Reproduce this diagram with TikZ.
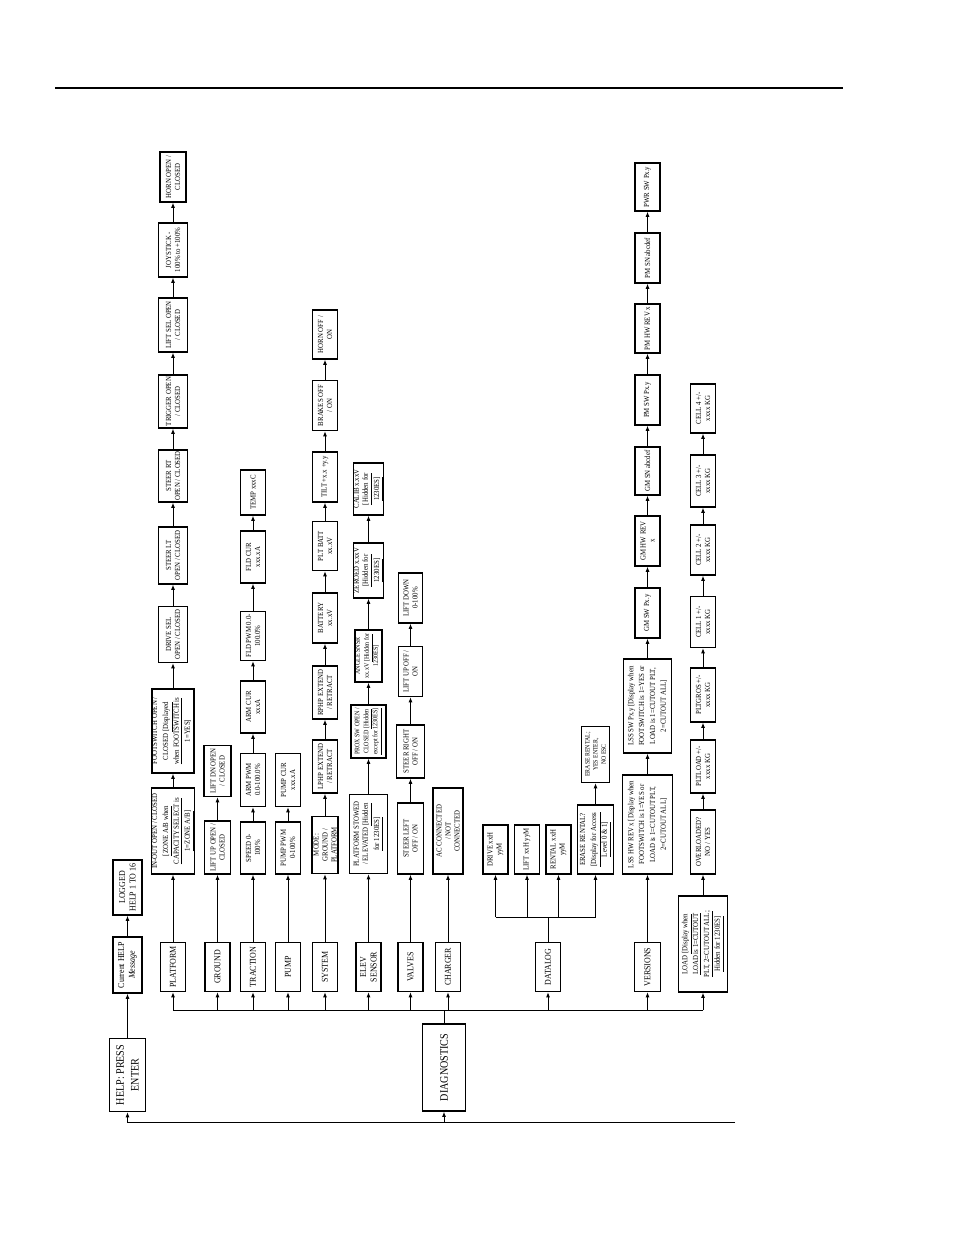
\documentclass[tikz,border=0pt]{standalone}
\usepackage{fontspec}
\setmainfont{Liberation Serif}[FakeStretch=0.88]
\usetikzlibrary{arrows.meta}

\begin{document}
\begin{tikzpicture}[x=0.6439pt, y=-0.6439pt,
  box/.style={draw, line width=0.8pt, rotate=90, inner sep=0pt, align=center, font=\fontsize{5}{5.8}\selectfont},
  sz/.style 2 args={minimum height=#1*0.6439pt, minimum width=#2*0.6439pt},
  roomy/.style={font=\fontsize{5}{7}\selectfont},
  menu/.style={font=\fontsize{5.8}{6.8}\selectfont},
  big/.style={font=\fontsize{7.4}{9.5}\selectfont},
  tinytxt/.style={font=\fontsize{4.3}{5.2}\selectfont},
  narrow/.style={font=\fontsize{4.4}{5.8}\selectfont},
  arr/.style={-{Latex[length=3.4pt,width=2.6pt]}, line width=0.6pt},
  wire/.style={line width=0.6pt}]

\useasboundingbox (0,0) rectangle (954,1235);

% header rule
\draw [line width=0.8pt] (55,88) -- (843,88);

% help entry
\node [box, big, sz={36}{73}] (help) at (127.5,1075) {HELP: PRESS\\ENTER};
\node [box, menu, sz={29}{56}] (curhelp) at (127.5,965) {Current HELP\\\textit{Message}};
\node [box, menu, sz={29}{55}] (logged) at (127.5,887.5) {LOGGED\\HELP 1 TO 16};
\draw [arr] (help) -- (curhelp);
\draw [arr] (curhelp) -- (logged);

% diagnostics menu
\coordinate (bus) at (0,1010);
\coordinate (ret) at (735,1122);
\node [box, big, sz={43}{87}] (diag) at (444,1067.5) {DIAGNOSTICS};
\node [box, menu, sz={25}{49}] (platform) at (173,967) {PLATFORM};
\node [box, menu, sz={25}{49}] (ground) at (217.5,967) {GROUND};
\node [box, menu, sz={25}{49}] (traction) at (253,967) {TRACTION};
\node [box, menu, sz={25}{49}] (pump) at (288,967) {PUMP};
\node [box, menu, sz={25}{49}] (system) at (325,967) {SYSTEM};
\node [box, menu, sz={25}{49}] (elev) at (368.5,967) {ELEV\\SENSOR};
\node [box, menu, sz={25}{49}] (valves) at (410.5,967) {VALVES};
\node [box, menu, sz={25}{49}] (charger) at (448,967) {CHARGER};
\node [box, menu, sz={25}{49}] (datalog) at (548,967) {DATALOG};
\node [box, menu, sz={26}{49}] (versions) at (647.5,967) {VERSIONS};
\node [box, roomy, sz={49}{96}] (load) at (703,944) {LOAD \underline{[Display when}\\\underline{LOAD is 1=CUTOUT}\\\underline{PLT, 2=CUTOUT ALL;}\\\underline{Hidden for 1230ES]}};

\draw [wire] (platform |- bus) -- (load |- bus);
\draw [wire] (diag) -- (diag |- bus);
\draw [arr] (platform |- bus) -- (platform);
\draw [arr] (ground |- bus) -- (ground);
\draw [arr] (traction |- bus) -- (traction);
\draw [arr] (pump |- bus) -- (pump);
\draw [arr] (system |- bus) -- (system);
\draw [arr] (elev |- bus) -- (elev);
\draw [arr] (valves |- bus) -- (valves);
\draw [arr] (charger |- bus) -- (charger);
\draw [arr] (datalog |- bus) -- (datalog);
\draw [arr] (versions |- bus) -- (versions);
\draw [arr] (load |- bus) -- (load);

% loop back
\draw [arr] (ret) -- (help |- ret) -- (help);
\draw [arr] (diag |- ret) -- (diag);

% platform
\node [box, roomy, sz={43}{86}] (inout) at (173,831) {IN-OUT OPEN / CLOSED\\\underline{[ZONE A/B when}\\\underline{CAPACITY SELECT is}\\\underline{1=ZONE A/B]}};
\node [box, roomy, sz={41}{84}] (foot) at (173,731) {FOOTSWITCH OPEN /\\CLOSED \underline{[Displayed}\\\underline{when FOOTSWITCH is}\\\underline{1=YES]}};
\node [box, sz={29}{56}] (drivesel) at (173,634.5) {DRIVE SEL\\OPEN / CLOSED};
\node [box, sz={29}{57}] (steerlt) at (173,555.5) {STEER LT\\OPEN / CLOSED};
\node [box, sz={29}{52}] (steerrt) at (173,476) {STEER RT\\OPEN / CLOSED};
\node [box, sz={29}{53}] (trigger) at (173,401.5) {TRIGGER OPEN\\/ CLOSED};
\node [box, sz={29}{54}] (liftsel) at (173,325) {LIFT SEL OPEN\\/ CLOSED};
\node [box, sz={29}{54}] (joystick) at (173,250) {JOYSTICK -\\100\% to +100\%};
\node [box, sz={26}{50}] (horn) at (173,177) {HORN OPEN /\\CLOSED};
\draw [arr] (platform) -- (inout);
\draw [arr] (inout) -- (foot);
\draw [arr] (foot) -- (drivesel);
\draw [arr] (drivesel) -- (steerlt);
\draw [arr] (steerlt) -- (steerrt);
\draw [arr] (steerrt) -- (trigger);
\draw [arr] (trigger) -- (liftsel);
\draw [arr] (liftsel) -- (joystick);
\draw [arr] (joystick) -- (horn);

% ground
\node [box, sz={26}{53}] (liftup) at (217.5,847.5) {LIFT UP OPEN /\\CLOSED};
\node [box, sz={27}{51}] (liftdn) at (217.5,771) {LIFT DN OPEN\\/ CLOSED};
\draw [arr] (ground) -- (liftup);
\draw [arr] (liftup) -- (liftdn);

% traction
\node [box, sz={25}{52}] (speed) at (253,848) {SPEED 0-\\100\%};
\node [box, sz={25}{53}] (armpwm) at (253,780) {ARM PWM\\0.0-100.0\%};
\node [box, sz={25}{52}] (armcur) at (253,707) {ARM CUR\\xxxA};
\node [box, sz={25}{49}] (fldpwm) at (253,636) {FLD PWM 0.0-\\100.0\%};
\node [box, sz={25}{52}] (fldcur) at (253,557) {FLD CUR\\xxx.xA};
\node [box, sz={25}{45}] (temp) at (253,492.5) {TEMP xxxC};
\draw [arr] (traction) -- (speed);
\draw [arr] (speed) -- (armpwm);
\draw [arr] (armpwm) -- (armcur);
\draw [arr] (armcur) -- (fldpwm);
\draw [arr] (fldpwm) -- (fldcur);
\draw [arr] (fldcur) -- (temp);

% pump
\node [box, sz={25}{52}] (pumppwm) at (288,848) {PUMP PWM\\0-100\%};
\node [box, sz={25}{53}] (pumpcur) at (288,780) {PUMP CUR\\xxx.xA};
\draw [arr] (pump) -- (pumppwm);
\draw [arr] (pumppwm) -- (pumpcur);

% system
\node [box, sz={26}{57}] (mode) at (325,845) {MODE:\\GROUND /\\PLATFORM};
\node [box, sz={25}{53}] (lphp) at (325,766.5) {LPHP EXTEND\\/ RETRACT};
\node [box, sz={25}{53}] (rphp) at (325,692.5) {RPHP EXTEND\\/ RETRACT};
\node [box, sz={25}{50}] (battery) at (325,618) {BATTERY\\xx.xV};
\node [box, sz={25}{49}] (pltbatt) at (325,546) {PLT BATT\\xx.xV};
\node [box, sz={25}{50}] (tilt) at (325,477) {TILT +x.x +y.y};
\node [box, sz={25}{50}] (brakes) at (325,405.5) {BRAKES OFF\\/ ON};
\node [box, sz={25}{49}] (hornon) at (325,334.5) {HORN OFF /\\ON};
\draw [arr] (system) -- (mode);
\draw [arr] (mode) -- (lphp);
\draw [arr] (lphp) -- (rphp);
\draw [arr] (rphp) -- (battery);
\draw [arr] (battery) -- (pltbatt);
\draw [arr] (pltbatt) -- (tilt);
\draw [arr] (tilt) -- (brakes);
\draw [arr] (brakes) -- (hornon);

% elev sensor
\node [box, sz={38}{79}] (stowed) at (368.5,834) {PLATFORM STOWED\\/ ELEVATED \underline{[Hidden}\\\underline{for 1230ES]}};
\node [box, narrow, sz={35}{53}] (prox) at (368.5,731.5) {PROX SW OPEN /\\CLOSED \underline{[Hidden}\\\underline{except for 1230ES]}};
\node [box, narrow, sz={27}{52}] (angle) at (368.5,656) {ANGLE SNSR\\xx.xV \underline{[Hidden for}\\\underline{1230ES]}};
\node [box, sz={27}{55}] (zeroed) at (368.5,570.5) {ZEROED x.xxV\\\underline{[Hidden for}\\\underline{1230ES]}};
\node [box, sz={27}{52}] (calib) at (368.5,489) {CALIB x.xxV\\\underline{[Hidden for}\\\underline{1230ES]}};
\draw [arr] (elev) -- (stowed);
\draw [arr] (stowed) -- (prox);
\draw [arr] (prox) -- (angle);
\draw [arr] (angle) -- (zeroed);
\draw [arr] (zeroed) -- (calib);

% valves
\node [box, sz={26}{71}] (steerleft) at (410.5,838.5) {STEER LEFT\\OFF / ON};
\node [box, sz={28}{53}] (steerright) at (410.5,751.5) {STEER RIGHT\\OFF / ON};
\node [box, sz={24}{50}] (liftupv) at (410.5,671.5) {LIFT UP OFF /\\ON};
\node [box, sz={24}{50}] (liftdown) at (410.5,598) {LIFT DOWN\\0-100\%};
\draw [arr] (valves) -- (steerleft);
\draw [arr] (steerleft) -- (steerright);
\draw [arr] (steerright) -- (liftupv);
\draw [arr] (liftupv) -- (liftdown);

% charger
\node [box, sz={30}{86}] (acconn) at (448,831) {AC CONNECTED\\/ NOT\\CONNECTED};
\draw [arr] (charger) -- (acconn);

% datalog
\coordinate (dlj) at (548,917);
\node [box, sz={25}{49}] (drive) at (495.5,849.5) {DRIVE xxH\\yyM};
\node [box, sz={25}{49}] (lift) at (527,849.5) {LIFT xxH yyM};
\node [box, sz={25}{49}] (rental) at (558.5,849.5) {RENTAL xxH\\yyM};
\node [box, roomy, sz={36}{69}] (erase) at (595.5,839.5) {ERASE RENTAL?\\\underline{[Display for Access}\\\underline{Level 0 \& 1]}};
\node [box, tinytxt, sz={28}{56}] (eraseyes) at (595.5,754.5) {ERASE RENTAL;\\YES ENTER,\\NO ESC};
\draw [wire] (datalog) -- (dlj);
\draw [wire] (drive |- dlj) -- (erase |- dlj);
\draw [arr] (drive |- dlj) -- (drive);
\draw [arr] (lift |- dlj) -- (lift);
\draw [arr] (rental |- dlj) -- (rental);
\draw [arr] (erase |- dlj) -- (erase);
\draw [arr] (erase) -- (eraseyes);

% versions
\node [box, roomy, sz={50}{99}] (lsshw) at (647.5,824.5) {LSS HW REV x [Display when\\FOOTSWITCH is 1=YES or\\LOAD is 1=CUTOUT PLT,\\2=CUTOUT ALL]};
\node [box, roomy, sz={48}{94}] (lsssw) at (647.5,706) {LSS SW Px.y [Display when\\FOOTSWITCH is 1=YES or\\LOAD is 1=CUTOUT PLT,\\2=CUTOUT ALL]};
\node [box, sz={25}{50}] (gmsw) at (647.5,613) {GM SW Px.y};
\node [box, sz={25}{50}] (gmhw) at (647.5,541) {GM HW REV\\x};
\node [box, sz={25}{48}] (gmsn) at (647.5,471) {GM SN abcdef};
\node [box, sz={25}{50}] (pmsw) at (647.5,400) {PM SW Px.y};
\node [box, sz={25}{49}] (pmhw) at (647.5,328.5) {PM HW REV x};
\node [box, sz={25}{50}] (pmsn) at (647.5,258) {PM SN abcdef};
\node [box, sz={25}{48}] (pwrsw) at (647.5,187) {PWR SW Px.y};
\draw [arr, line width=1.2pt] (versions) -- (lsshw);
\draw [arr] (lsshw) -- (lsssw);
\draw [arr] (lsssw) -- (gmsw);
\draw [arr] (gmsw) -- (gmhw);
\draw [arr] (gmhw) -- (gmsn);
\draw [arr] (gmsn) -- (pmsw);
\draw [arr] (pmsw) -- (pmhw);
\draw [arr] (pmhw) -- (pmsn);
\draw [arr] (pmsn) -- (pwrsw);

% load
\node [box, sz={25}{64}] (overload) at (703,842) {OVERLOADED?\\NO / YES};
\node [box, sz={25}{53}] (pltload) at (703,766.5) {PLTLOAD +/-\\xxxx KG};
\node [box, sz={25}{54}] (pltgros) at (703,695) {PLTGROS +/-\\xxxx KG};
\node [box, sz={25}{51}] (cellone) at (703,622) {CELL 1 +/-\\xxxx KG};
\node [box, sz={25}{50}] (celltwo) at (703,550) {CELL 2 +/-\\xxxx KG};
\node [box, sz={25}{52}] (cellthree) at (703,481) {CELL 3 +/-\\xxxx KG};
\node [box, sz={25}{49}] (cellfour) at (703,408.5) {CELL 4 +/-\\xxxx KG};
\draw [arr] (load) -- (overload);
\draw [arr] (overload) -- (pltload);
\draw [arr] (pltload) -- (pltgros);
\draw [arr] (pltgros) -- (cellone);
\draw [arr] (cellone) -- (celltwo);
\draw [arr] (celltwo) -- (cellthree);
\draw [arr] (cellthree) -- (cellfour);

\end{tikzpicture}
\end{document}
